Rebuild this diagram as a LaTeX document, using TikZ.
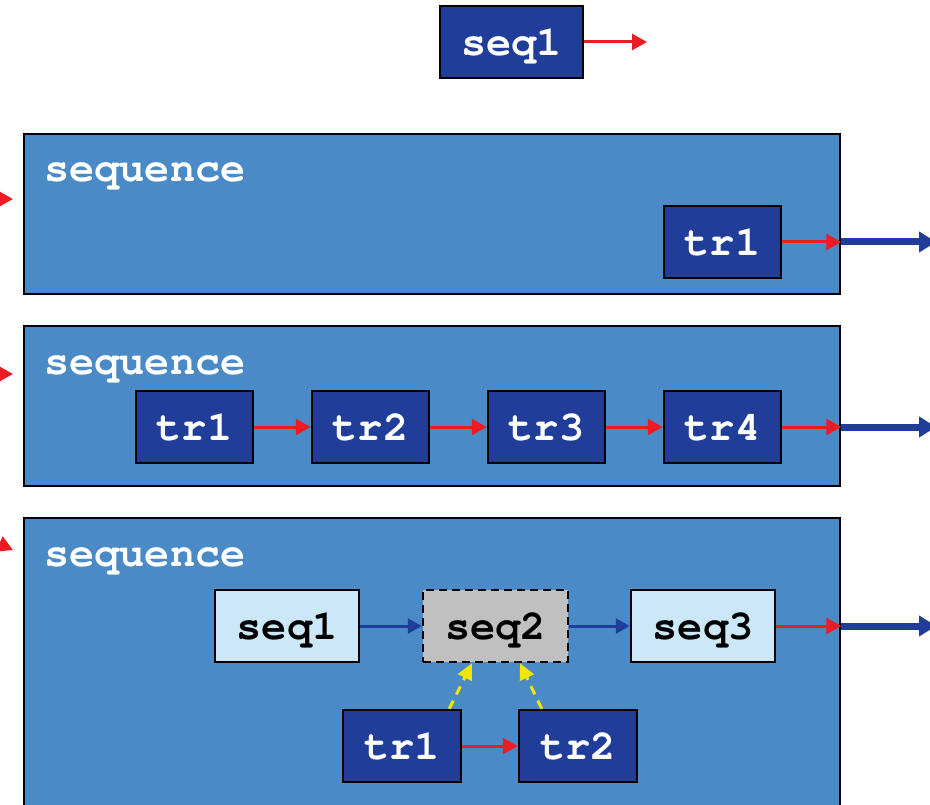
\documentclass[tikz,border=0pt]{standalone}
\usepackage{fontspec}
\newfontfamily\cour{TeX Gyre Cursor}
\usetikzlibrary{arrows.meta,calc}

\definecolor{panel}{HTML}{4A8BC7}
\definecolor{navy}{HTML}{1F3D99}
\definecolor{pale}{HTML}{CCE8F8}
\definecolor{greybox}{HTML}{C0C0C0}
\definecolor{redline}{HTML}{ED1C24}
\definecolor{yell}{HTML}{F2E600}

\tikzset{
  lbl/.style={font=\cour\bfseries\fontsize{42}{42}\selectfont, text depth=0pt, inner sep=0pt},
  panelbox/.style={draw=black, line width=2.5pt, fill=panel, inner sep=0pt, minimum width=816pt},
  heading/.style={lbl, text=white, anchor=base west},
  darkbox/.style={lbl, draw=black, line width=2.5pt, fill=navy, text=white, minimum height=72pt},
  lightbox/.style={lbl, draw=black, line width=2.5pt, fill=pale, text=black, minimum height=72pt, minimum width=144pt},
  ghostbox/.style={lbl, draw=black, line width=2.5pt, dash pattern=on 8pt off 5pt, fill=greybox, text=black, minimum height=72pt, minimum width=145pt},
  redarrow/.style={draw=redline, line width=3pt, -{Triangle[length=15pt,width=16pt]}},
  bluearrow/.style={draw=navy, line width=3pt, -{Triangle[length=14pt,width=15pt]}},
  outarrow/.style={draw=navy, line width=7pt, -{Triangle[length=17pt,width=20pt]}},
  linkarrow/.style={draw=yell, line width=3pt, dash pattern=on 9pt off 7pt, -{Triangle[length=16pt,width=15pt]}},
}

\begin{document}
\begin{tikzpicture}[x=1pt, y=-1pt]
  \clip (0,0) rectangle (930,805);
  \fill[white] (0,0) rectangle (930,805);

  % top: single sequence item
  \node[darkbox, minimum width=143pt] (top) at (511.5,42) {seq1};
  \coordinate (topend) at (647,42);
  \draw[redarrow] (top) -- (topend);

  % panel 1: one transaction
  \node[panelbox, minimum height=160pt] (p1) at (432,214) {};
  \node[heading] (h1) at (44,182) {sequence};
  \node[darkbox, minimum width=117pt] (a1) at (722.5,242) {tr1};
  \coordinate (in1) at (13,199);
  \coordinate (src1) at (-30,199);
  \coordinate (out1) at (936,242);
  \draw[redarrow] (src1) -- (in1);
  \draw[redarrow] (a1) -- (a1 -| p1.east);
  \draw[outarrow] (a1 -| p1.east) -- (out1);

  % panel 2: chain of four transactions
  \node[panelbox, minimum height=160pt] (p2) at (432,406) {};
  \node[heading] (h2) at (44,374) {sequence};
  \node[darkbox, minimum width=117pt] (b1) at (194.5,427) {tr1};
  \node[darkbox, minimum width=117pt] (b2) at (370.5,427) {tr2};
  \node[darkbox, minimum width=117pt] (b3) at (546.5,427) {tr3};
  \node[darkbox, minimum width=117pt] (b4) at (722.5,427) {tr4};
  \coordinate (in2) at (13,374);
  \coordinate (src2) at (-30,374);
  \coordinate (out2) at (936,427);
  \draw[redarrow] (src2) -- (in2);
  \draw[redarrow] (b1) -- (b2);
  \draw[redarrow] (b2) -- (b3);
  \draw[redarrow] (b3) -- (b4);
  \draw[redarrow] (b4) -- (b4 -| p2.east);
  \draw[outarrow] (b4 -| p2.east) -- (out2);

  % panel 3: nested sequences
  \node[panelbox, minimum height=320pt] (p3) at (432,678) {};
  \node[heading] (h3) at (44,566) {sequence};
  \node[lightbox] (s1) at (287,626) {seq1};
  \node[ghostbox] (s2) at (495.5,626) {seq2};
  \node[lightbox] (s3) at (703,626) {seq3};
  \node[darkbox, minimum width=118pt] (c1) at (402,746) {tr1};
  \node[darkbox, minimum width=118pt] (c2) at (578,746) {tr2};
  \coordinate (in3) at (13,550);
  \coordinate (src3) at (-28,532);
  \coordinate (out3) at (936,626);
  \draw[redarrow] (src3) -- (in3);
  \draw[bluearrow] (s1) -- (s2);
  \draw[bluearrow] (s2) -- (s3);
  \draw[redarrow] (s3) -- (s3 -| p3.east);
  \draw[outarrow] (s3 -| p3.east) -- (out3);
  \draw[redarrow] (c1) -- (c2);
  \draw[linkarrow] ([xshift=-13pt]c1.north east) -- ([xshift=-23.5pt]s2.south);
  \draw[linkarrow] ([xshift=24pt]c2.north west) -- ([xshift=24.5pt]s2.south);
\end{tikzpicture}
\end{document}
